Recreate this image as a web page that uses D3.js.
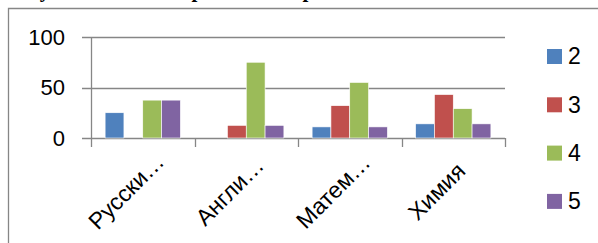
<!DOCTYPE html>
<html lang="ru">
<head>
<meta charset="utf-8">
<title>Результаты</title>
<style>
  body { margin: 0; padding: 0; background: #fff; }
  svg { display: block; }
  text { font-family: "Liberation Sans", Arial, sans-serif; fill: #000; }
</style>
<script src="https://d3js.org/d3.v7.min.js"></script>
</head>
<body>
<div id="root"></div>
<script>
  // data (percent of students per mark)
  var subjects = ["Русски…", "Англи…", "Матем…", "Химия"];
  var marks = ["2", "3", "4", "5"];
  var mark2 = [25, 0, 11, 14];
  var mark3 = [0, 12.5, 32, 43];
  var mark4 = [37.5, 75, 55, 29];
  var mark5 = [37.5, 12.5, 11, 14];
  var yTicks = [0, 50, 100];
  var colors = ["#4f81bd", "#c0504d", "#9bbb59", "#8064a2"];
  var title = "Результаты контрольных работ в 8 классе";

  var series = [mark2, mark3, mark4, mark5];

  var W = 598, H = 243;
  var svg = d3.select("#root").append("svg")
    .attr("width", W)
    .attr("height", H);

  // cut-off heading from the page above the chart
  svg.append("text")
    .attr("x", 10)
    .attr("y", -3)
    .style("font-family", "'Liberation Serif', 'Times New Roman', serif")
    .style("font-weight", "bold")
    .style("font-size", "21px")
    .style("word-spacing", "22px")
    .text(title);

  // chart frame
  svg.append("path")
    .attr("d", "M8.5," + H + "V8.5H" + W)
    .attr("fill", "none")
    .attr("stroke", "#868686")
    .attr("stroke-width", 1.3);

  var x = d3.scaleBand().domain(subjects).range([91, 505]);
  var x1 = d3.scaleBand().domain(marks).range([0, x.bandwidth()])
    .paddingOuter(0.75).paddingInner(0);
  var y = d3.scaleLinear().domain([0, 100]).range([138, 37]);

  // gridlines + y ticks
  svg.append("g").selectAll("line").data(yTicks).enter().append("line")
    .attr("x1", 82).attr("x2", 505)
    .attr("y1", function(d) { return Math.round(y(d)) + 0.5; })
    .attr("y2", function(d) { return Math.round(y(d)) + 0.5; })
    .attr("stroke", "#868686")
    .attr("stroke-width", 1.3);

  svg.append("g").selectAll("text").data(yTicks).enter().append("text")
    .attr("x", 65)
    .attr("y", function(d) { return y(d); })
    .attr("dy", "0.35em")
    .attr("text-anchor", "end")
    .style("font-size", "22px")
    .text(function(d) { return d; });

  // bars
  var groups = svg.append("g").selectAll("g").data(series).enter().append("g")
    .attr("fill", function(d, i) { return colors[i]; });
  groups.selectAll("rect")
    .data(function(d, i) { return d.map(function(v, j) { return { v: v, s: marks[i], c: subjects[j] }; }); })
    .enter().append("rect")
    .attr("x", function(d) { return x(d.c) + x1(d.s); })
    .attr("y", function(d) { return y(d.v); })
    .attr("width", x1.bandwidth())
    .attr("height", function(d) { return y(0) - y(d.v); })
    .attr("stroke", "#fff")
    .attr("stroke-width", 0.6);

  // axes lines
  svg.append("line")
    .attr("x1", 91.5).attr("x2", 91.5).attr("y1", 37).attr("y2", 139)
    .attr("stroke", "#868686").attr("stroke-width", 1.3);
  var bounds = subjects.map(function(s) { return x(s); }).concat([x.range()[1]]);
  svg.append("g").selectAll("line").data(bounds).enter().append("line")
    .attr("x1", function(d) { return Math.round(d) + 0.5; })
    .attr("x2", function(d) { return Math.round(d) + 0.5; })
    .attr("y1", 138).attr("y2", 147)
    .attr("stroke", "#868686").attr("stroke-width", 1.3);

  // category labels, rotated
  svg.append("g").selectAll("text").data(subjects).enter().append("text")
    .attr("transform", function(d) {
      var cx = x(d) + x.bandwidth() / 2;
      return "translate(" + (cx - 11) + ",197) rotate(-45)";
    })
    .attr("text-anchor", "middle")
    .style("font-size", "23px")
    .text(function(d) { return d; });

  // legend
  var legend = svg.append("g").selectAll("g").data(marks).enter().append("g")
    .attr("transform", function(d, i) { return "translate(547," + (56 + i * 48.3) + ")"; });
  legend.append("rect")
    .attr("x", 0).attr("y", -7)
    .attr("width", 15).attr("height", 15)
    .attr("fill", function(d, i) { return colors[i]; });
  legend.append("text")
    .attr("x", 21)
    .attr("dy", "0.36em")
    .style("font-size", "23px")
    .text(function(d) { return d; });
</script>
</body>
</html>
